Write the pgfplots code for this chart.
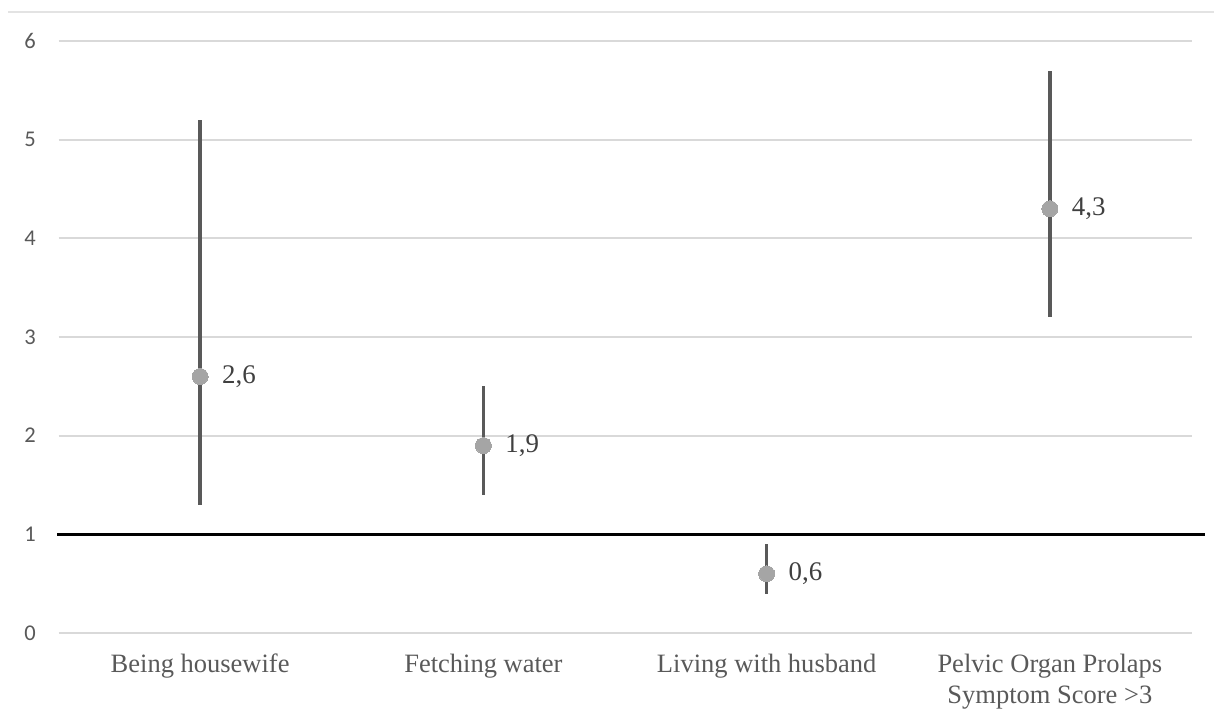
\documentclass[border=0pt]{standalone}
\usepackage{fontspec}
\setmainfont{Liberation Serif}
\newfontfamily\calibri{Carlito}
\usepackage{pgfplots}
\pgfplotsset{compat=1.18}
\definecolor{gridc}{HTML}{D9D9D9}
\definecolor{topc}{HTML}{E3E3E3}
\definecolor{labc}{HTML}{595959}
\definecolor{barc}{HTML}{595959}
\definecolor{markc}{HTML}{A5A5A5}
\definecolor{datc}{HTML}{404040}
\begin{document}
\begin{tikzpicture}
\begin{axis}[
  scale only axis, width=566.5bp, height=296bp,
  xmin=-0.5, xmax=3.5, ymin=0, ymax=6,
  axis line style={draw=none}, major tick length=0,
  ytick={0,1,2,3,4,5,6}, ymajorgrids, grid style={gridc, line width=1bp},
  xtick={0,1,2,3},
  xticklabels={Being housewife, Fetching water, Living with husband, {Pelvic Organ Prolaps\\Symptom Score >3}},
  x tick label style={font=\fontsize{13.3}{15.5}\selectfont, text=labc, align=center, yshift=-7bp},
  y tick label style={font=\calibri\fontsize{11.3}{13}\selectfont, text=labc, xshift=-7.8bp},
  /pgf/number format/assume math mode=true,
  clip=false,
]
\addplot[draw=topc, line width=1bp, forget plot] coordinates {(-0.678,6.294) (3.58,6.294)};
\addplot[draw=black, line width=1.8bp, forget plot] coordinates {(-0.505,1) (3.548,1)};
\addplot[
  only marks, mark=none, forget plot,
  error bars/.cd, y dir=both, y explicit, error mark=none,
  error bar style={draw=barc, line width=1.8bp},
] table[x=x, y=y, y error plus=ep, y error minus=em] {
x y ep em
0 2.6 2.6 1.3
1 1.9 0.6 0.5
2 0.6 0.3 0.2
3 4.3 1.4 1.1
};
\addplot[
  only marks, mark=*, color=markc, mark size=4bp, mark options={fill=markc, draw=markc, line width=0pt},
  nodes near coords,
  nodes near coords style={font=\fontsize{13.5}{15}\selectfont, text=datc, anchor=west, inner sep=0pt, xshift=11bp,
    /pgf/number format/.cd, use comma, fixed, fixed zerofill, precision=1, assume math mode=true},
] table[x=x, y=y] {
x y
0 2.6
1 1.9
2 0.6
3 4.3
};
\end{axis}
\pgfresetboundingbox
\path[use as bounding box] ([xshift=-29.25bp,yshift=-43.5bp]current axis.south west) rectangle ([xshift=11.25bp,yshift=20.5bp]current axis.north east);
\end{tikzpicture}
\end{document}
